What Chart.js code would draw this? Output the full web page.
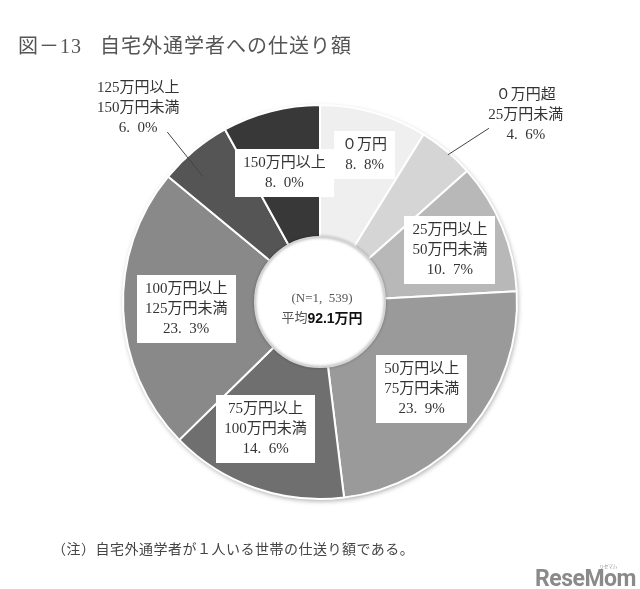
<!DOCTYPE html>
<html>
<head>
<meta charset="utf-8">
<script src="https://cdn.jsdelivr.net/npm/chart.js@4.4.1/dist/chart.umd.min.js"></script>
<style>
    html, body { margin: 0; padding: 0; background: #fff; }
    #wrap { position: relative; width: 640px; height: 589px; overflow: hidden; }
    #chartBox { position: absolute; left: 0; top: 0; width: 640px; height: 589px; }
    #title {
        position: absolute; left: 18px; top: 30px; white-space: nowrap;
        font: 20px "Liberation Serif", "Noto Sans CJK JP", serif; color: #555; letter-spacing: 1px;
    }
    #note {
        position: absolute; left: 52px; top: 538px; white-space: nowrap;
        font: 14px "Liberation Serif", "Noto Sans CJK JP", serif; color: #444; letter-spacing: 0.5px;
    }
    #logo {
        position: absolute; left: 535px; top: 565px; white-space: nowrap;
        font: bold 23px "Liberation Sans Narrow", "Roboto", sans-serif; color: #8a8a8a; letter-spacing: -0.5px;
    }
    #logo small { position: absolute; left: 64px; top: -3px; font: 5px "Noto Sans CJK JP"; color: #999; }
</style>
</head>
<body>
<div id="wrap">
    <div id="chartBox"><canvas id="pie"></canvas></div>
    <div id="title">図－13&nbsp;&nbsp;&nbsp;自宅外通学者への仕送り額</div>
    <div id="note">（注）自宅外通学者が１人いる世帯の仕送り額である。</div>
    <div id="logo">ReseMom<small>リセマム</small></div>
</div>
<script>
// ──────────────────────────────────────────────
// Данные
// ──────────────────────────────────────────────
const categories = ['０万円', '０万円超25万円未満', '25万円以上50万円未満', '50万円以上75万円未満',
                    '75万円以上100万円未満', '100万円以上125万円未満', '125万円以上150万円未満', '150万円以上'];
const labelLines = [
    ['０万円'],
    ['０万円超', '25万円未満'],
    ['25万円以上', '50万円未満'],
    ['50万円以上', '75万円未満'],
    ['75万円以上', '100万円未満'],
    ['100万円以上', '125万円未満'],
    ['125万円以上', '150万円未満'],
    ['150万円以上']
];
const shares = [8.8, 4.6, 10.7, 23.9, 14.6, 23.3, 6.0, 8.0];
const sampleSize = '1,\u2002539';
const average = '92.1万円';

const colors = ['#efefef', '#d5d5d5', '#b8b8b8', '#9a9a9a', '#6f6f6f', '#898989', '#555555', '#383838'];

// где рисовать подписи: доля радиуса, сдвиг угла (°), выноска для внешних
const placements = [
    { r: 0.78, da: 1 },
    { r: 1.41, da: 7.8, outside: true, lead: [[1.23, 4.2], [0.99, 1]] },
    { r: 0.71, da: 0.7 },
    { r: 0.68, da: 0.7 },
    { r: 0.70, da: 4 },
    { r: 0.68, da: -0.7 },
    { r: 1.35, da: -3.5, outside: true, lead: [[1.16, -2.3], [0.87, -3.4]] },
    { r: 0.68, da: -1 }
];

const FONT = '15px "Liberation Serif", "Noto Sans CJK JP", serif';
const LINE_H = 20;

function pct(v) {
    return v.toFixed(1).replace('.', '.\u2002') + '%';
}

function polar(arc, f, deg) {
    const a = (arc.startAngle + arc.endAngle) / 2 + deg * Math.PI / 180;
    return { x: arc.x + Math.cos(a) * arc.outerRadius * f, y: arc.y + Math.sin(a) * arc.outerRadius * f };
}

// ──────────────────────────────────────────────
// Плагин: тень, дырка, подписи
// ──────────────────────────────────────────────
const decorPlugin = {
    id: 'decor',
    beforeDatasetsDraw(chart) {
        const arc = chart.getDatasetMeta(0).data[0];
        const ctx = chart.ctx;
        ctx.save();
        ctx.shadowColor = 'rgba(0,0,0,0.35)';
        ctx.shadowBlur = 5; ctx.shadowOffsetX = 1; ctx.shadowOffsetY = 2;
        ctx.beginPath();
        ctx.arc(arc.x, arc.y, arc.outerRadius, 0, Math.PI * 2);
        ctx.fillStyle = '#fff';
        ctx.fill();
        ctx.restore();
    },
    afterDatasetsDraw(chart) {
        const meta = chart.getDatasetMeta(0);
        const ctx = chart.ctx;
        const a0 = meta.data[0];

        // центральный круг
        ctx.save();
        ctx.beginPath();
        ctx.arc(a0.x, a0.y, a0.innerRadius + 1, 0, Math.PI * 2);
        ctx.fillStyle = '#fff';
        ctx.fill();
        ctx.shadowColor = 'rgba(0,0,0,0.3)';
        ctx.shadowBlur = 3;
        ctx.strokeStyle = '#d4d4d4';
        ctx.lineWidth = 2;
        ctx.stroke();
        ctx.restore();

        ctx.save();
        ctx.textAlign = 'center';
        ctx.textBaseline = 'middle';
        ctx.font = '13px "Liberation Serif", "Noto Sans CJK JP", serif';
        ctx.fillStyle = '#555';
        ctx.fillText('(N=' + sampleSize + ')', a0.x + 2, a0.y - 3);
        const p1 = '平均', p2 = average;
        ctx.font = '13px "Liberation Serif", "Noto Sans CJK JP", serif';
        const w1 = ctx.measureText(p1).width;
        ctx.font = 'bold 14px "Liberation Sans", "Noto Sans CJK JP", sans-serif';
        const w2 = ctx.measureText(p2).width;
        let x = a0.x + 2 - (w1 + w2) / 2;
        ctx.textAlign = 'left';
        ctx.font = '13px "Liberation Serif", "Noto Sans CJK JP", serif';
        ctx.fillStyle = '#555';
        ctx.fillText(p1, x, a0.y + 17);
        ctx.font = 'bold 14px "Liberation Sans", "Noto Sans CJK JP", sans-serif';
        ctx.fillStyle = '#111';
        ctx.fillText(p2, x + w1, a0.y + 17);
        ctx.restore();

        // подписи секторов
        ctx.save();
        ctx.font = FONT;
        ctx.textAlign = 'center';
        ctx.textBaseline = 'middle';
        meta.data.forEach((arc, i) => {
            const pl = placements[i];
            const lines = labelLines[i].concat([pct(shares[i])]);
            const c = polar(arc, pl.r, pl.da);
            const h = lines.length * LINE_H;
            if (pl.outside) {
                const p = pl.lead.map(l => polar(arc, l[0], l[1]));
                ctx.strokeStyle = '#444';
                ctx.lineWidth = 1;
                ctx.beginPath();
                ctx.moveTo(p[0].x, p[0].y);
                ctx.lineTo(p[1].x, p[1].y);
                ctx.stroke();
            } else {
                const w = Math.max(...lines.map(t => ctx.measureText(t).width)) + 16;
                ctx.fillStyle = '#fff';
                ctx.fillRect(Math.round(c.x - w / 2), Math.round(c.y - h / 2 - 4), Math.round(w), h + 8);
            }
            ctx.fillStyle = '#333';
            lines.forEach((t, k) => {
                ctx.fillText(t, c.x, c.y - h / 2 + LINE_H * (k + 0.5));
            });
        });
        ctx.restore();
    }
};

// ──────────────────────────────────────────────
// График
// ──────────────────────────────────────────────
new Chart(document.getElementById('pie'), {
    type: 'doughnut',
    data: {
        labels: categories,
        datasets: [{
            data: shares,
            backgroundColor: colors,
            borderColor: '#fff',
            borderWidth: 2
        }]
    },
    options: {
        responsive: true,
        maintainAspectRatio: false,
        animation: false,
        cutout: '32.5%',
        layout: { padding: { left: 122, right: 122, top: 104, bottom: 89 } },
        plugins: {
            legend: { display: false },
            tooltip: { enabled: false }
        }
    },
    plugins: [decorPlugin]
});
</script>
</body>
</html>
